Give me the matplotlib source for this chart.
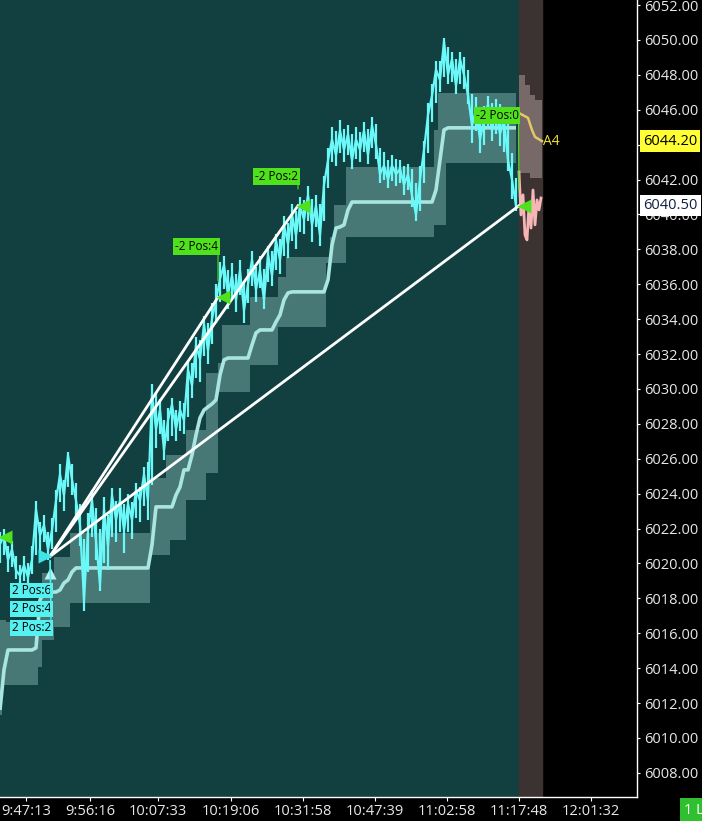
import matplotlib.pyplot as plt

plt.rcParams['font.family'] = ['Open Sans', 'DejaVu Sans']

###########################################################################
#                                DATA                                     #
###########################################################################

# one bar ~ every 4 px of the original chart
close = [
    6021.1, 6021.6, 6020.2, 6020.8, 6019.6, 6019.3, 6019.9, 6019.2, 6020.2, 6023.1,
    6021.6, 6022.2, 6020.8, 6021.9, 6023.6, 6025.1, 6023.9, 6026.2, 6024.8, 6023.6,
    6022.2, 6017.9, 6021.9, 6023.6, 6021.3, 6018.8, 6023.1, 6021.0, 6023.9, 6022.5,
    6023.6, 6021.9, 6023.4, 6022.5, 6024.2, 6023.6, 6025.1, 6023.6, 6029.7, 6027.7,
    6028.8, 6026.5, 6028.2, 6029.1, 6027.7, 6028.8, 6028.2, 6031.1, 6030.2, 6032.5,
    6031.7, 6033.7, 6032.2, 6034.0, 6035.1, 6036.3, 6037.1, 6035.4, 6036.5, 6035.1,
    6036.8, 6034.5, 6036.0, 6037.4, 6035.7, 6036.8, 6035.1, 6037.7, 6036.5, 6038.5,
    6037.4, 6039.4, 6038.3, 6040.0, 6038.8, 6040.5, 6039.7, 6041.1, 6039.4, 6040.5,
    6038.8, 6041.7, 6043.1, 6044.3, 6043.4, 6044.8, 6043.7, 6044.6, 6043.1, 6044.3,
    6043.7, 6044.8, 6043.4, 6045.1, 6044.0, 6042.3, 6042.8, 6042.0, 6042.8, 6042.3,
    6042.6, 6041.7, 6042.3, 6041.1, 6040.0, 6042.0, 6043.7, 6045.7, 6046.8, 6048.3,
    6047.7, 6049.9, 6048.0, 6048.9, 6047.4, 6048.9, 6048.0, 6046.8, 6045.1, 6046.0,
    6044.3, 6045.4, 6046.3, 6044.8, 6046.0, 6044.6, 6045.4, 6043.1, 6042.0, 6040.5,
]

high = [
    6021.8, 6022.0, 6021.0, 6021.3, 6020.4, 6019.9, 6020.4, 6020.0, 6021.0, 6023.6,
    6022.4, 6022.8, 6021.8, 6022.6, 6024.2, 6025.7, 6024.8, 6026.4, 6025.7, 6024.6,
    6023.4, 6021.4, 6022.9, 6024.2, 6023.2, 6022.0, 6023.8, 6022.8, 6024.3, 6023.6,
    6024.3, 6023.4, 6024.0, 6023.5, 6024.6, 6024.4, 6025.5, 6025.8, 6030.3, 6029.8,
    6029.4, 6028.2, 6028.9, 6029.5, 6028.8, 6029.3, 6029.2, 6031.6, 6031.5, 6033.0,
    6032.8, 6034.2, 6033.8, 6034.9, 6036.0, 6037.3, 6037.6, 6036.8, 6037.2, 6036.6,
    6037.4, 6036.2, 6036.9, 6037.9, 6037.0, 6037.6, 6036.9, 6038.2, 6037.9, 6038.9,
    6038.6, 6039.9, 6039.5, 6040.6, 6040.2, 6041.0, 6040.8, 6041.6, 6040.9, 6041.1,
    6040.6, 6042.2, 6043.8, 6045.0, 6044.8, 6045.4, 6044.9, 6045.1, 6044.6, 6045.0,
    6044.7, 6045.3, 6044.9, 6045.6, 6045.2, 6043.8, 6043.6, 6043.1, 6043.4, 6043.2,
    6043.1, 6042.8, 6042.9, 6042.6, 6041.8, 6042.8, 6044.2, 6046.4, 6047.5, 6048.8,
    6048.8, 6050.1, 6049.6, 6049.3, 6048.9, 6049.3, 6049.0, 6048.3, 6046.9, 6046.7,
    6046.1, 6046.2, 6046.8, 6046.4, 6046.6, 6046.3, 6045.9, 6045.2, 6043.5, 6042.1,
]

low = [
    6020.0, 6020.5, 6019.5, 6019.8, 6019.1, 6018.9, 6019.0, 6018.9, 6019.4, 6020.5,
    6020.6, 6021.2, 6020.2, 6020.8, 6021.8, 6023.5, 6023.0, 6024.4, 6023.9, 6022.6,
    6021.0, 6017.3, 6019.5, 6021.5, 6020.2, 6018.4, 6020.0, 6019.6, 6021.5, 6021.2,
    6021.8, 6020.6, 6021.8, 6021.4, 6022.6, 6022.4, 6023.3, 6022.5, 6024.5, 6026.6,
    6027.4, 6025.9, 6027.0, 6027.3, 6027.0, 6027.6, 6027.4, 6028.4, 6029.5, 6030.6,
    6030.4, 6031.9, 6031.4, 6032.6, 6033.8, 6035.0, 6035.7, 6034.6, 6035.2, 6034.4,
    6035.4, 6033.8, 6034.9, 6035.9, 6035.0, 6035.8, 6034.6, 6036.1, 6035.9, 6036.8,
    6036.6, 6037.6, 6037.5, 6038.5, 6038.0, 6039.0, 6038.9, 6039.6, 6038.4, 6039.3,
    6038.2, 6039.6, 6041.5, 6043.0, 6042.8, 6043.5, 6043.0, 6043.4, 6042.6, 6043.2,
    6043.0, 6043.6, 6042.9, 6043.8, 6043.2, 6041.8, 6042.0, 6041.5, 6041.9, 6041.6,
    6041.8, 6041.1, 6041.4, 6040.4, 6039.6, 6040.2, 6041.8, 6043.5, 6045.3, 6046.4,
    6047.0, 6047.9, 6047.5, 6047.6, 6046.9, 6047.5, 6047.2, 6046.3, 6044.1, 6044.8,
    6043.5, 6044.0, 6044.9, 6044.2, 6044.6, 6043.9, 6043.6, 6042.5, 6040.9, 6040.2,
]

mid = [
    6011.60, 6013.90, 6015.04, 6015.04, 6015.04, 6015.04, 6015.04, 6015.04, 6015.04, 6015.16,
    6017.90, 6018.36, 6018.36, 6018.36, 6018.36, 6018.48, 6018.88, 6019.05, 6019.51, 6019.74,
    6019.74, 6019.74, 6019.74, 6019.74, 6019.74, 6019.74, 6019.74, 6019.74, 6019.74, 6019.74,
    6019.74, 6019.74, 6019.74, 6019.74, 6019.74, 6019.74, 6019.74, 6019.74, 6021.06, 6023.24,
    6023.24, 6023.24, 6023.24, 6023.24, 6023.92, 6024.38, 6025.36, 6025.36, 6026.22, 6027.36,
    6028.34, 6028.79, 6028.97, 6029.14, 6029.37, 6030.80, 6031.66, 6031.77, 6031.77, 6031.77,
    6031.77, 6031.77, 6031.77, 6032.52, 6033.21, 6033.38, 6033.38, 6033.38, 6033.38, 6033.84,
    6034.24, 6035.10, 6035.50, 6035.56, 6035.56, 6035.56, 6035.56, 6035.56, 6035.56, 6035.56,
    6035.56, 6035.56, 6036.25, 6038.25, 6039.22, 6039.28, 6039.40, 6040.26, 6040.71, 6040.71,
    6040.71, 6040.71, 6040.71, 6040.71, 6040.71, 6040.71, 6040.71, 6040.71, 6040.71, 6040.71,
    6040.71, 6040.71, 6040.71, 6040.71, 6040.71, 6040.71, 6040.71, 6040.71, 6040.71, 6041.40,
    6043.12, 6044.84, 6044.96, 6044.96, 6044.96, 6044.96, 6044.96, 6044.96, 6044.96, 6044.96,
    6044.96, 6044.96, 6044.96, 6044.96, 6044.96, 6044.96, 6044.96, 6044.96, 6044.96, 6044.96,
]

band_hi = [
    6016.76, 6016.76, 6016.65, 6016.65, 6016.65, 6016.65, 6016.65, 6016.65, 6016.65, 6016.65,
    6017.90, 6019.45, 6019.45, 6019.45, 6020.37, 6020.37, 6020.37, 6020.37, 6021.75, 6021.75,
    6021.75, 6021.75, 6021.75, 6021.75, 6021.75, 6021.75, 6021.75, 6021.75, 6021.75, 6021.75,
    6021.75, 6021.75, 6021.75, 6021.75, 6021.75, 6021.75, 6021.75, 6021.75, 6024.90, 6024.90,
    6024.90, 6024.90, 6026.22, 6026.22, 6026.22, 6026.22, 6026.22, 6027.65, 6027.65, 6027.65,
    6027.65, 6027.65, 6030.91, 6030.91, 6030.91, 6031.49, 6033.67, 6033.67, 6033.67, 6033.67,
    6033.67, 6033.67, 6033.67, 6035.27, 6035.27, 6035.27, 6035.27, 6035.27, 6035.27, 6035.27,
    6036.42, 6036.42, 6037.56, 6037.56, 6037.56, 6037.56, 6037.56, 6037.56, 6037.56, 6037.56,
    6037.56, 6037.56, 6037.56, 6038.71, 6040.54, 6040.54, 6040.54, 6042.72, 6042.72, 6042.72,
    6042.72, 6042.72, 6042.72, 6042.72, 6042.72, 6042.72, 6042.72, 6042.72, 6042.72, 6042.72,
    6042.72, 6042.72, 6042.72, 6042.72, 6042.72, 6042.72, 6042.72, 6042.72, 6042.72, 6044.84,
    6046.96, 6046.96, 6046.96, 6046.96, 6046.96, 6046.96, 6046.96, 6046.96, 6046.96, 6046.96,
    6046.96, 6046.96, 6046.96, 6046.96, 6046.96, 6046.96, 6046.96, 6046.96, 6046.96, 6046.96,
]

band_lo = [
    6011.31, 6013.04, 6013.04, 6013.04, 6013.04, 6013.04, 6013.04, 6013.04, 6013.04, 6013.04,
    6014.07, 6015.62, 6015.62, 6015.62, 6016.36, 6016.36, 6016.36, 6016.36, 6017.73, 6017.73,
    6017.73, 6017.73, 6017.73, 6017.73, 6017.73, 6017.73, 6017.73, 6017.73, 6017.73, 6017.73,
    6017.73, 6017.73, 6017.73, 6017.73, 6017.73, 6017.73, 6017.73, 6017.73, 6020.48, 6020.48,
    6020.48, 6020.48, 6020.48, 6021.34, 6021.34, 6021.34, 6021.34, 6023.64, 6023.64, 6023.64,
    6023.64, 6023.64, 6025.18, 6025.18, 6025.18, 6029.83, 6029.83, 6029.83, 6029.83, 6029.83,
    6029.83, 6029.83, 6029.83, 6031.37, 6031.37, 6031.37, 6031.37, 6031.37, 6031.37, 6031.37,
    6033.55, 6033.55, 6033.55, 6033.55, 6033.55, 6033.55, 6033.55, 6033.55, 6033.55, 6033.55,
    6033.55, 6033.55, 6037.22, 6037.22, 6037.22, 6037.22, 6037.22, 6038.71, 6038.71, 6038.71,
    6038.71, 6038.71, 6038.71, 6038.71, 6038.71, 6038.71, 6038.71, 6038.71, 6038.71, 6038.71,
    6038.71, 6038.71, 6038.71, 6038.71, 6038.71, 6038.71, 6038.71, 6038.71, 6038.71, 6039.40,
    6039.40, 6039.40, 6042.95, 6042.95, 6042.95, 6042.95, 6042.95, 6042.95, 6042.95, 6042.95,
    6042.95, 6042.95, 6042.95, 6042.95, 6042.95, 6042.95, 6042.95, 6042.95, 6042.95, 6042.95,
]

# live (after-hours) section
live_x = [129.75, 130.25, 130.75, 131.25, 131.75, 132.25, 132.75, 133.25, 133.75, 134.25, 134.75, 135.25]
live_close = [6042.43, 6039.97, 6041.12, 6038.82, 6038.54, 6040.54, 6039.22, 6041.40, 6039.40,
              6040.83, 6040.26, 6040.94]
live_band_x = [129.75, 131.25, 132.5, 133.75, 135.5]
live_band_hi = [6047.99, 6047.42, 6046.85, 6046.56, 6046.56]
live_band_lo = [6042.38, 6042.38, 6042.09, 6042.09, 6042.09]
a4_x = [129.75, 132.0, 133.0, 133.75, 135.5]
a4_price = [6045.81, 6045.53, 6044.84, 6044.44, 6044.20]
live_start = 129.75
live_end = 135.5

# trades
entry_bar, entry_price = 12.5, 6020.4
exit_bars = [54.5, 74.5, 129.75]
exit_prices = [6035.25, 6040.5, 6040.5]
exit_labels = ["-2 Pos:4", "-2 Pos:2", "-2 Pos:0"]
entry_labels = ["2 Pos:6", "2 Pos:4", "2 Pos:2"]
old_exit_bar, old_exit_price = 1.3, 6021.5

# axes
time_ticks = [6.5, 22.6, 39.5, 57.75, 75.75, 93.75, 111.75, 129.75, 147.75]
time_labels = ["9:47:13", "9:56:16", "10:07:33", "10:19:06", "10:31:58",
               "10:47:39", "11:02:58", "11:17:48", "12:01:32"]
price_ticks = [6008 + 2 * k for k in range(23)]
last_a4 = 6044.20
last_price = 6040.50

###########################################################################
#                               COLOURS                                   #
###########################################################################

BG = '#123f3f'
BAND = '#477876'
MID = '#a9e5e1'
CYAN = '#6af8f8'
GREEN = '#4fe21c'
BROWN = '#3d3232'
LIVE_BAND = '#786969'
PINK = '#f6b6b6'
YELLOW = '#e3c865'

###########################################################################
#                                 PLOT                                    #
###########################################################################

fig = plt.figure(figsize=(7.02, 8.21), dpi=100, facecolor='black')
ax = fig.add_axes([0, 24 / 821, 637 / 702, 797 / 821])
ax.set_facecolor('black')
ax.set_xlim(0, 159.25)
ax.set_ylim(6006.614, 6052.287)

bars = list(range(len(close)))

ax.axvspan(0, live_start, color=BG, zorder=0)
ax.axvspan(live_start, live_end, color=BROWN, zorder=0)

# stepped band + centre line
ax.fill_between(bars, band_lo, band_hi, step='mid', color=BAND, lw=0, zorder=1)
ax.plot(bars, mid, color=MID, lw=2.6, zorder=2, solid_capstyle='butt')
ax.fill_between(live_band_x, live_band_lo, live_band_hi, step='post',
                color=LIVE_BAND, lw=0, zorder=1)

# price: bar ranges + close line
ax.vlines(bars, low, high, color=CYAN, lw=1.6, zorder=3)
ax.plot(bars, close, color=CYAN, lw=1.6, zorder=3)
ax.plot(live_x, live_close, color=PINK, lw=2.0, zorder=3)
ax.plot(a4_x, a4_price, color=YELLOW, lw=1.8, zorder=3)
ax.text(a4_x[-1] + 0.3, a4_price[-1], "A4", color='#f0e040', fontsize=10,
        va='center', ha='left', zorder=6)

# trade lines
for xb, pr in zip(exit_bars, exit_prices):
    ax.plot([entry_bar, xb], [entry_price, pr], color='white', lw=2.0, zorder=4)

# markers
ax.plot([b + 1.2 for b in exit_bars], exit_prices, '<', color=GREEN, ms=10,
        mec='none', zorder=5)
ax.plot(old_exit_bar, old_exit_price, '<', color=GREEN, ms=10, mec='none', zorder=5)
ax.plot(entry_bar - 1.2, entry_price, '>', color='#3fe6e6', ms=10, mec='none', zorder=5)
ax.plot(entry_bar, entry_price - 0.95, '^', color='#b5f2f0', ms=8, mec='none', zorder=5)

# exit labels
exit_offsets = [(-21.5, 51), (-21.5, 29), (-22, 90)]
for xb, pr, lab, off in zip(exit_bars, exit_prices, exit_labels, exit_offsets):
    ax.annotate(lab, xy=(xb, pr), xytext=off, textcoords='offset pixels',
                ha='center', va='center', fontsize=8.5, color='black', zorder=7,
                bbox=dict(boxstyle='square,pad=0.15', fc=GREEN, ec='none'),
                arrowprops=dict(arrowstyle='-', color=GREEN, lw=0.8,
                                relpos=(1, 0), shrinkA=0, shrinkB=12))

# entry labels
entry_offsets = [(-18.5, -34), (-18.5, -52.5), (-18.5, -71.5)]
for lab, off in zip(entry_labels, entry_offsets):
    ax.annotate(lab, xy=(entry_bar, entry_price), xytext=off, textcoords='offset pixels',
                ha='center', va='center', fontsize=8.5, color='black', zorder=7,
                bbox=dict(boxstyle='square,pad=0.12', fc='#55f0f0', ec='none'),
                arrowprops=dict(arrowstyle='-', color='#55f0f0', lw=0.8,
                                relpos=(1, 0), shrinkA=0, shrinkB=3))

# axes styling
for s in ['top', 'left']:
    ax.spines[s].set_visible(False)
for s in ['right', 'bottom']:
    ax.spines[s].set_color('white')
    ax.spines[s].set_linewidth(1.0)

ax.yaxis.tick_right()
ax.set_yticks(price_ticks)
ax.set_yticklabels([f"{p:.2f}" for p in price_ticks])
ax.tick_params(axis='y', colors='white', labelcolor='#e8e8e8', length=2,
               labelsize=10.5, pad=3)
ax.set_xticks(time_ticks)
ax.set_xticklabels(time_labels)
ax.tick_params(axis='x', colors='white', labelcolor='#e8e8e8', length=3,
               labelsize=10.5, pad=2)

# current value boxes on the price scale (cover the grid label below them)
for val, fc, tc in [(last_a4, '#ffff33', 'black'), (last_price, 'white', '#102040')]:
    ax.annotate(f"{val:.2f}", xy=(1.0, val), xycoords=('axes fraction', 'data'),
                xytext=(6, 0), textcoords='offset pixels', ha='left', va='center',
                fontsize=10.5, color=tc, zorder=8, annotation_clip=False,
                bbox=dict(boxstyle='square,pad=0.22', fc=fc, ec='none'))

fig.text(0.975, 0.013, "1 L", color='white', fontsize=10.5, ha='left', va='center',
         bbox=dict(boxstyle='square,pad=0.3', fc='#2fbf2f', ec='none'))

fig.savefig('out.png', dpi=100, facecolor='black')
